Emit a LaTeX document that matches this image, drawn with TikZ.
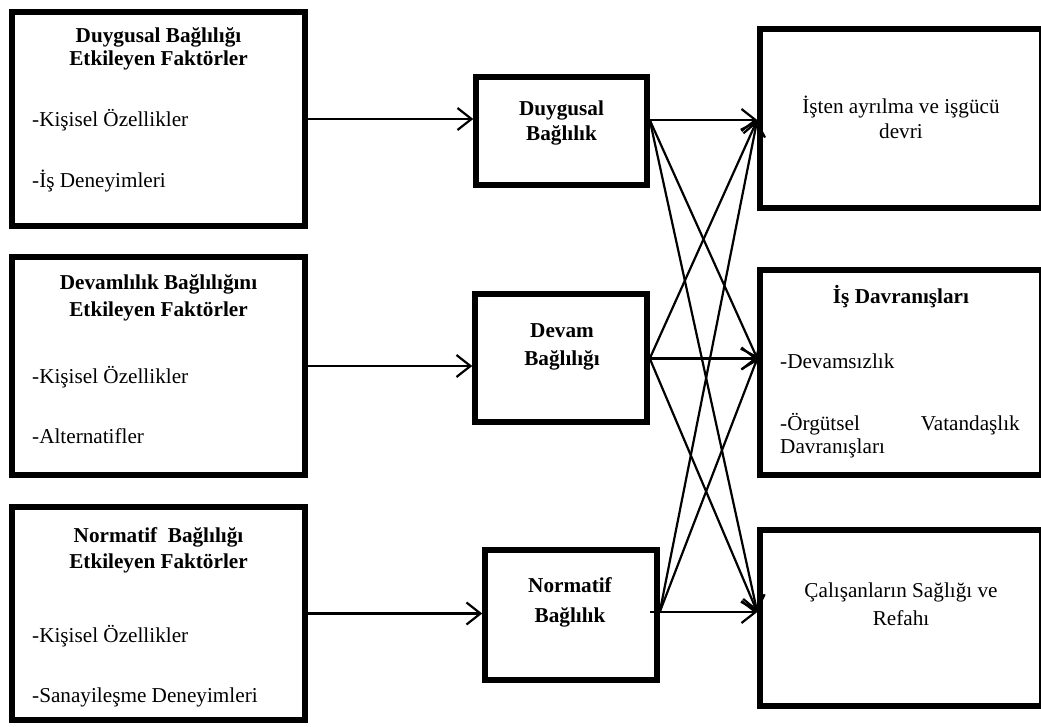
\documentclass[tikz,border=0pt]{standalone}
\usepackage{fontspec}
\setmainfont{Liberation Serif}
\usetikzlibrary{arrows.meta}
\newcommand{\fsz}{\fontsize{21.2}{25}\selectfont}
\begin{document}
\begin{tikzpicture}[x=1pt,y=-1pt,
  box/.style={draw=black, line width=5.5pt, inner sep=0pt, fill=white},
  hd/.style={font=\fsz\bfseries, anchor=base, inner sep=0pt},
  ct/.style={font=\fsz, anchor=base, inner sep=0pt},
  lt/.style={font=\fsz, anchor=base west, inner sep=0pt},
  rt/.style={font=\fsz, anchor=base east, inner sep=0pt},
  arr/.style={line width=2.2pt, -{Straight Barb[length=14pt,width=22pt,line width=2.2pt]}}]
\useasboundingbox[fill=white] (0,0) rectangle (1041,726);
% left boxes
\node[box, minimum width=293pt, minimum height=214pt] (L1) at (158.5,119) {};
\node[box, minimum width=293pt, minimum height=218pt] (L2) at (158.5,366) {};
\node[box, minimum width=293pt, minimum height=213pt] (L3) at (158.5,613.5) {};
% middle boxes
\node[box, minimum width=171pt, minimum height=108pt] (D1) at (561.5,131) {};
\node[box, minimum width=172pt, minimum height=128pt] (D2) at (561,358) {};
\node[box, minimum width=172pt, minimum height=130pt] (N) at (571,615) {};
% right boxes
\node[box, minimum width=282pt, minimum height=179pt] (R1) at (901,118.5) {};
\node[box, minimum width=282pt, minimum height=205pt] (R2) at (901,372.5) {};
\node[box, minimum width=282pt, minimum height=176pt] (R3) at (901,618) {};
% texts left
\node[hd] (L1a) at (158.5,42) {Duygusal Bağlılığı};
\node[hd] (L1b) at (158.5,65) {Etkileyen Faktörler};
\node[lt] (L1c) at (32,126) {-Kişisel Özellikler};
\node[lt] (L1d) at (32,187) {-İş Deneyimleri};
\node[hd] (L2a) at (158.5,289) {Devamlılık Bağlılığını};
\node[hd] (L2b) at (158.5,316) {Etkileyen Faktörler};
\node[lt] (L2c) at (32,383) {-Kişisel Özellikler};
\node[lt] (L2d) at (32,443) {-Alternatifler};
\node[hd] (L3a) at (158.5,542) {Normatif~ Bağlılığı};
\node[hd] (L3b) at (158.5,568) {Etkileyen Faktörler};
\node[lt] (L3c) at (32,642) {-Kişisel Özellikler};
\node[lt] (L3d) at (32,702) {-Sanayileşme Deneyimleri};
% texts middle
\node[hd] (D1a) at (561.5,115) {Duygusal};
\node[hd] (D1b) at (561.5,140) {Bağlılık};
\node[hd] (D2a) at (562,337) {Devam};
\node[hd] (D2b) at (562,365) {Bağlılığı};
\node[hd] (Na) at (570,592) {Normatif};
\node[hd] (Nb) at (570,622) {Bağlılık};
% texts right
\node[ct] (R1a) at (901,113) {İşten ayrılma ve işgücü};
\node[ct] (R1b) at (901,138) {devri};
\node[hd] (R2a) at (901,303) {İş Davranışları};
\node[lt] (R2b) at (780,368) {-Devamsızlık};
\node[lt] (R2c) at (780,430) {-Örgütsel};
\node[rt] (R2d) at (1020,430) {Vatandaşlık};
\node[lt] (R2e) at (780,453) {Davranışları};
\node[ct] (R3a) at (901,597) {Çalışanların Sağlığı ve};
\node[ct] (R3b) at (901,625) {Refahı};
% helper coordinates
\coordinate (y1) at (0,120);
\coordinate (y2) at (0,358.5);
\coordinate (y3) at (0,612);
\coordinate (s1) at (D1.east |- y1);
\coordinate (s2) at (D2.east |- y2);
\coordinate (s3) at (N.east |- y3);
\coordinate (s3i) at ([xshift=-10pt]s3);
\coordinate (t1) at (R1.west |- y1);
\coordinate (t2) at (R2.west |- y2);
\coordinate (t3) at (R3.west |- y3);
% left to middle
\draw[arr] (L1.east) -- (L1.east -| D1.west);
\draw[arr] (L2.east) -- (L2.east -| D2.west);
\draw[arr] (L3.east) -- (L3.east -| N.west);
% middle to right
\draw[arr] (s1) -- (t1);
\draw[arr] (s1) -- (t2);
\draw[arr] (s1) -- (t3);
\draw[arr] (s2) -- (t1);
\draw[arr] (s2) -- (t2);
\draw[arr] (s2) -- (t3);
\draw[arr] (s3) -- (t1);
\draw[arr] (s3) -- (t2);
\draw[arr] (s3i) -- (t3);
\end{tikzpicture}
\end{document}
